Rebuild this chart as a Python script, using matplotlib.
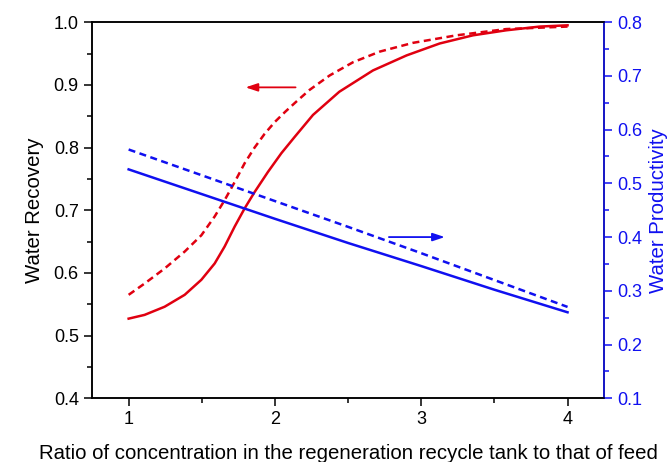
import numpy as np
import matplotlib.pyplot as plt
from matplotlib.ticker import MultipleLocator

plt.rcParams['font.family'] = ['Liberation Sans', 'DejaVu Sans']

# water recovery (left axis)
rec_x = [1.0, 1.109, 1.246, 1.383, 1.497, 1.588, 1.656, 1.725, 1.793, 1.861, 1.952,
         2.044, 2.135, 2.26, 2.44, 2.67, 2.90, 3.126, 3.353, 3.58, 3.81, 4.0]
rec_solid = [0.527, 0.533, 0.546, 0.565, 0.589, 0.615, 0.642, 0.674, 0.703, 0.729, 0.761,
             0.791, 0.817, 0.852, 0.889, 0.923, 0.947, 0.966, 0.979, 0.987, 0.993, 0.995]
rec_dash_x = [1.0, 1.109, 1.246, 1.383, 1.497, 1.588, 1.656, 1.725, 1.793, 1.861, 1.93,
              2.0, 2.07, 2.14, 2.237, 2.374, 2.533, 2.716, 2.943, 3.24, 3.58, 4.0]
rec_dash = [0.565, 0.583, 0.607, 0.634, 0.660, 0.690, 0.716, 0.745, 0.775, 0.800, 0.822,
            0.841, 0.857, 0.872, 0.892, 0.915, 0.936, 0.953, 0.967, 0.979, 0.989, 0.993]

# water productivity (right axis)
prod_x = [1.0, 1.5, 2.0, 2.5, 3.0, 3.5, 4.0]
prod_solid = [0.526, 0.480, 0.434, 0.389, 0.346, 0.302, 0.260]
prod_dash = [0.563, 0.515, 0.467, 0.419, 0.370, 0.320, 0.270]

red = '#e00010'
blue = '#1010f0'

fig, ax = plt.subplots(figsize=(6.72, 4.62), dpi=100)
fig.subplots_adjust(left=0.137, right=0.899, bottom=0.138, top=0.952)
ax2 = ax.twinx()

ax.plot(rec_x, rec_solid, color=red, lw=1.8)
ax.plot(rec_dash_x, rec_dash, color=red, lw=1.8, ls=(0, (2.8, 1.8)))
ax2.plot(prod_x, prod_solid, color=blue, lw=1.8)
ax2.plot(prod_x, prod_dash, color=blue, lw=1.8, ls=(0, (2.8, 1.8)))

# arrows
ax.annotate('', xy=(1.78, 0.896), xytext=(2.16, 0.896),
            arrowprops=dict(arrowstyle='-|>,head_length=0.6,head_width=0.2',
                            color=red, lw=1.3, mutation_scale=12))
ax2.annotate('', xy=(3.18, 0.40), xytext=(2.76, 0.40),
             arrowprops=dict(arrowstyle='-|>,head_length=0.6,head_width=0.2',
                             color=blue, lw=1.3, mutation_scale=12))

ax.set_xlim(0.75, 4.25)
ax.set_ylim(0.4, 1.0)
ax2.set_ylim(0.1, 0.8)

ax.xaxis.set_major_locator(MultipleLocator(1))
ax.xaxis.set_minor_locator(MultipleLocator(0.5))
ax.yaxis.set_major_locator(MultipleLocator(0.1))
ax.yaxis.set_minor_locator(MultipleLocator(0.05))
ax2.yaxis.set_major_locator(MultipleLocator(0.1))
ax2.yaxis.set_minor_locator(MultipleLocator(0.05))

ax.tick_params(which='major', direction='out', length=6, width=1.1, labelsize=13)
ax.tick_params(which='minor', direction='out', length=3.5, width=1.1)
ax2.tick_params(which='major', direction='out', length=6, width=1.1, labelsize=13,
                colors=blue)
ax2.tick_params(which='minor', direction='out', length=3.5, width=1.1, colors=blue)

for s in ax.spines.values():
    s.set_linewidth(1.1)
for s in ax2.spines.values():
    s.set_linewidth(1.1)
ax2.spines['right'].set_color(blue)

ax.set_ylabel('Water Recovery', fontsize=14.7, labelpad=7)
ax2.set_ylabel('Water Productivity', fontsize=14.7, color=blue, labelpad=5)
ax.set_xlabel('Ratio of concentration in the regeneration recycle tank to that of feed',
              fontsize=14.7, labelpad=11)

fig.savefig('out.png', dpi=100)
